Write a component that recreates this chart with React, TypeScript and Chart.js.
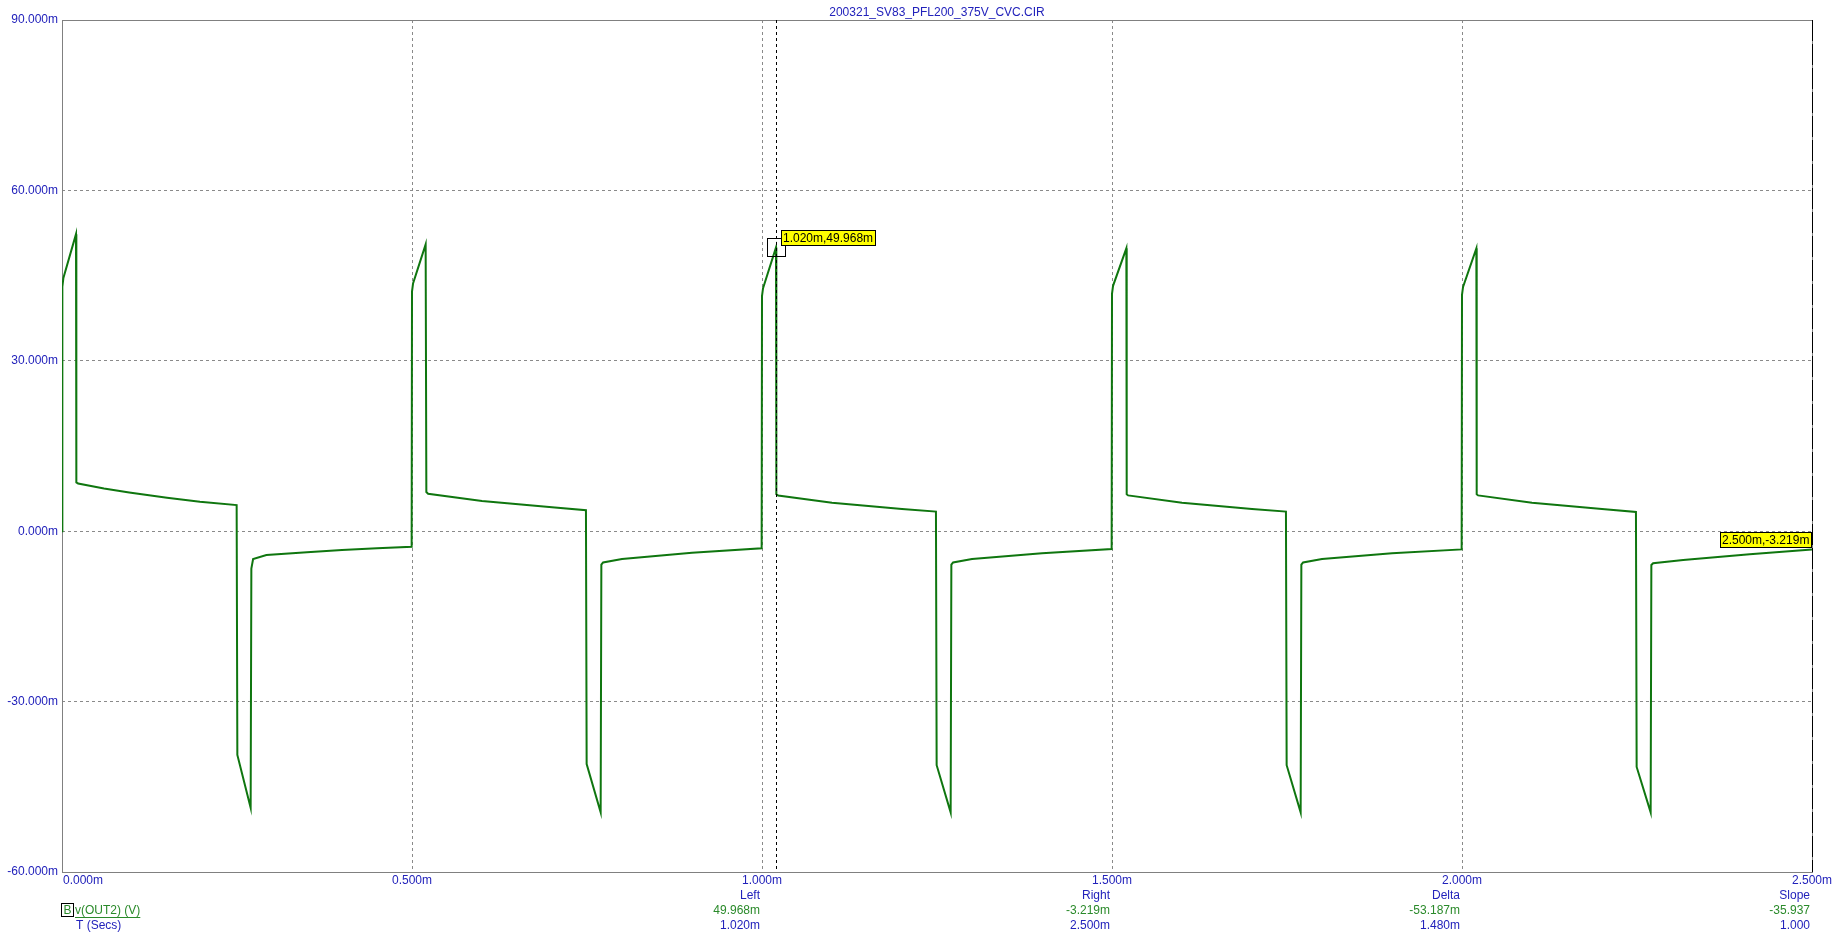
import React, { useEffect, useRef } from "react";
import { Chart, registerables } from "chart.js";

Chart.register(...registerables);

// ---- data (time in ms, voltage in mV) ----
const timeMs = [
  0, 0.0005, 0.002, 0.02, 0.0205, 0.023, 0.06, 0.096, 0.15, 0.197, 0.2495, 0.2505, 0.2695, 0.2705, 0.273, 0.292, 0.35, 0.4, 0.45, 0.4995,
  0.5, 0.5015, 0.5195, 0.5205, 0.523, 0.6, 0.7, 0.7485, 0.7495, 0.7695, 0.7705, 0.773, 0.8, 0.9, 0.9995,
  1.0, 1.0015, 1.02, 1.0205, 1.023, 1.1, 1.2, 1.2485, 1.2495, 1.2695, 1.2705, 1.273, 1.3, 1.4, 1.4995,
  1.5, 1.5015, 1.5205, 1.521, 1.523, 1.6, 1.7, 1.7485, 1.7495, 1.7695, 1.7705, 1.773, 1.8, 1.9, 1.9995,
  2.0, 2.0015, 2.0205, 2.021, 2.023, 2.1, 2.2, 2.2485, 2.2495, 2.2695, 2.2705, 2.273, 2.316, 2.411, 2.5,
];
const voutMilliV = [
  0, 43.0, 44.6, 52.3, 8.6, 8.4, 7.5, 6.8, 5.9, 5.2, 4.6, -39.4, -48.7, -6.6, -4.9, -4.2, -3.7, -3.3, -3.0, -2.75,
  42.2, 43.6, 50.5, 6.9, 6.6, 5.3, 4.2, 3.7, -41.0, -49.5, -5.9, -5.5, -4.9, -3.8, -3.0,
  41.4, 42.8, 49.968, 6.5, 6.3, 5.0, 3.9, 3.45, -41.2, -49.5, -5.9, -5.5, -4.9, -3.9, -3.15,
  41.8, 43.2, 49.8, 6.5, 6.3, 5.0, 3.9, 3.45, -41.2, -49.5, -5.9, -5.5, -4.9, -3.9, -3.2,
  41.6, 43.0, 49.8, 6.5, 6.3, 5.0, 3.9, 3.4, -41.5, -49.5, -5.95, -5.65, -5.07, -4.07, -3.219,
];

const xTickValues = [0, 0.5, 1.0, 1.5, 2.0, 2.5];
const xTickLabels = ["0.000m", "0.500m", "1.000m", "1.500m", "2.000m", "2.500m"];
const yMin = -60;
const yMax = 90;
const yStep = 30;

const titleText = "200321_SV83_PFL200_375V_CVC.CIR";
const cursorLeft = { t: 1.02, v: 49.968, label: "1.020m,49.968m" };
const cursorRight = { t: 2.5, v: -3.219, label: "2.500m,-3.219m" };

const readoutColumns = [1.0, 1.5, 2.0, 2.5];
const readoutHeaders = ["Left", "Right", "Delta", "Slope"];
const readoutValues = ["49.968m", "-3.219m", "-53.187m", "-35.937"];
const readoutTimes = ["1.020m", "2.500m", "1.480m", "1.000"];
const legendBox = "B";
const legendSeries = "v(OUT2) (V)";
const legendXAxis = "T (Secs)";

// ---- styles ----
const FONT = "'Liberation Sans', Arial, sans-serif";
const BLUE = "#2222bb";
const GREEN_TEXT = "#2a8a2a";
const TRACE = "#0f760f";
const GRID = "#8a8a8a";
const FRAME = "#808080";

const overlayPlugin = {
  id: "overlay",
  beforeDatasetsDraw(chart: any) {
    const { ctx, chartArea } = chart;
    const { left, right, top, bottom } = chartArea;
    ctx.save();
    ctx.strokeStyle = FRAME;
    ctx.lineWidth = 1;
    ctx.setLineDash([]);
    ctx.strokeRect(left + 0.5, top + 0.5, right - left, bottom - top);
    ctx.restore();
  },
  afterDraw(chart: any) {
    const { ctx, chartArea } = chart;
    const { left, right, top, bottom } = chartArea;
    const xs = chart.scales.x;
    const ys = chart.scales.y;
    ctx.save();
    ctx.font = `12px ${FONT}`;

    // cursors
    const lx = Math.round(xs.getPixelForValue(cursorLeft.t)) + 0.5;
    ctx.strokeStyle = "#000";
    ctx.lineWidth = 1;
    ctx.setLineDash([3, 3]);
    ctx.beginPath();
    ctx.moveTo(lx, top);
    ctx.lineTo(lx, bottom);
    ctx.stroke();

    const rx = Math.round(xs.getPixelForValue(cursorRight.t)) + 0.5;
    ctx.setLineDash([21, 3]);
    ctx.beginPath();
    ctx.moveTo(rx, top);
    ctx.lineTo(rx, bottom);
    ctx.stroke();
    ctx.setLineDash([]);

    // marker square on left cursor
    const lpx = xs.getPixelForValue(cursorLeft.t);
    const lpy = ys.getPixelForValue(cursorLeft.v);
    ctx.strokeStyle = "#000";
    ctx.strokeRect(Math.round(lpx - 9) + 0.5, Math.round(lpy - 9) + 0.5, 18, 18);

    const drawTag = (text: string, bx: number, by: number) => {
      const w = Math.ceil(ctx.measureText(text).width) + 4;
      const h = 16;
      ctx.fillStyle = "#ffff00";
      ctx.fillRect(bx, by, w, h);
      ctx.strokeStyle = "#000";
      ctx.strokeRect(bx + 0.5, by + 0.5, w - 1, h - 1);
      ctx.fillStyle = "#000";
      ctx.textAlign = "left";
      ctx.textBaseline = "middle";
      ctx.fillText(text, bx + 2, by + h / 2 + 0.5);
      return w;
    };
    drawTag(cursorLeft.label, Math.round(lpx + 5), Math.round(lpy - 17));

    const rpx = xs.getPixelForValue(cursorRight.t);
    const rpy = ys.getPixelForValue(cursorRight.v);
    const rw = Math.ceil(ctx.measureText(cursorRight.label).width) + 4;
    drawTag(cursorRight.label, Math.round(rpx - rw), Math.round(rpy - 17));

    // title
    ctx.fillStyle = BLUE;
    ctx.textAlign = "center";
    ctx.textBaseline = "middle";
    ctx.fillText(titleText, (left + right) / 2, 12.5);

    // x tick labels
    xTickValues.forEach((v, i) => {
      const px = xs.getPixelForValue(v);
      ctx.textAlign = i === 0 ? "left" : "center";
      ctx.fillStyle = BLUE;
      ctx.fillText(xTickLabels[i], i === 0 ? left + 1 : px, bottom + 9);
    });

    // readouts
    readoutColumns.forEach((v, i) => {
      const px = Math.round(xs.getPixelForValue(v)) - 2;
      ctx.textAlign = "right";
      ctx.fillStyle = BLUE;
      ctx.fillText(readoutHeaders[i], px, bottom + 24);
      ctx.fillStyle = GREEN_TEXT;
      ctx.fillText(readoutValues[i], px, bottom + 39);
      ctx.fillStyle = BLUE;
      ctx.fillText(readoutTimes[i], px, bottom + 54);
    });

    // legend
    ctx.strokeStyle = "#000";
    ctx.strokeRect(left - 0.5, bottom + 31.5, 12, 13);
    ctx.fillStyle = GREEN_TEXT;
    ctx.textAlign = "center";
    ctx.fillText(legendBox, left + 5.5, bottom + 39);
    ctx.textAlign = "left";
    const sx = left + 13;
    ctx.fillText(legendSeries, sx, bottom + 39);
    const sw = ctx.measureText(legendSeries).width;
    ctx.strokeStyle = GREEN_TEXT;
    ctx.beginPath();
    ctx.moveTo(sx, bottom + 45.5);
    ctx.lineTo(sx + sw, bottom + 45.5);
    ctx.stroke();
    ctx.fillStyle = BLUE;
    ctx.fillText(legendXAxis, left + 14, bottom + 54);

    ctx.restore();
  },
};

export default function App() {
  const canvasRef = useRef<HTMLCanvasElement | null>(null);

  useEffect(() => {
    const canvas = canvasRef.current;
    if (!canvas) return;
    const points = timeMs.map((t, i) => ({ x: t, y: voutMilliV[i] }));
    const gridColorX = (c: any) =>
      c.tick && (c.tick.value === xTickValues[0] || c.tick.value === xTickValues[xTickValues.length - 1]) ? "rgba(0,0,0,0)" : GRID;
    const gridColorY = (c: any) =>
      c.tick && (c.tick.value === yMin || c.tick.value === yMax) ? "rgba(0,0,0,0)" : GRID;

    const chart = new Chart(canvas, {
      type: "scatter",
      data: {
        datasets: [
          {
            data: points,
            showLine: true,
            borderColor: TRACE,
            backgroundColor: TRACE,
            borderWidth: 2,
            pointRadius: 0,
            pointHoverRadius: 0,
            fill: false,
            tension: 0,
          } as any,
        ],
      },
      options: {
        animation: false,
        responsive: false,
        maintainAspectRatio: false,
        events: [],
        layout: { padding: { top: 20, right: 32, left: 0, bottom: 0 } },
        plugins: {
          legend: { display: false },
          tooltip: { enabled: false },
          title: { display: false },
        },
        scales: {
          x: {
            type: "linear",
            min: 0,
            max: 2.5,
            afterFit: (s: any) => {
              s.height = 74;
            },
            ticks: { display: false, stepSize: 0.5 },
            grid: { color: gridColorX, drawTicks: false, lineWidth: 1 },
            border: { display: false, dash: [3, 3] },
          },
          y: {
            type: "linear",
            min: yMin,
            max: yMax,
            afterFit: (s: any) => {
              s.width = 62;
            },
            ticks: {
              stepSize: yStep,
              color: BLUE,
              font: { family: FONT, size: 12 },
              padding: 4,
              callback: (v: any) => Number(v).toFixed(3) + "m",
            },
            grid: { color: gridColorY, drawTicks: false, lineWidth: 1 },
            border: { display: false, dash: [3, 3] },
          },
        },
      },
      plugins: [overlayPlugin],
    } as any);
    return () => chart.destroy();
  }, []);

  return (
    <div style={{ position: "absolute", left: 0, top: 0, width: 1844, height: 946, background: "#fff" }}>
      <canvas ref={canvasRef} width={1844} height={946} style={{ display: "block", width: 1844, height: 946 }} />
    </div>
  );
}
